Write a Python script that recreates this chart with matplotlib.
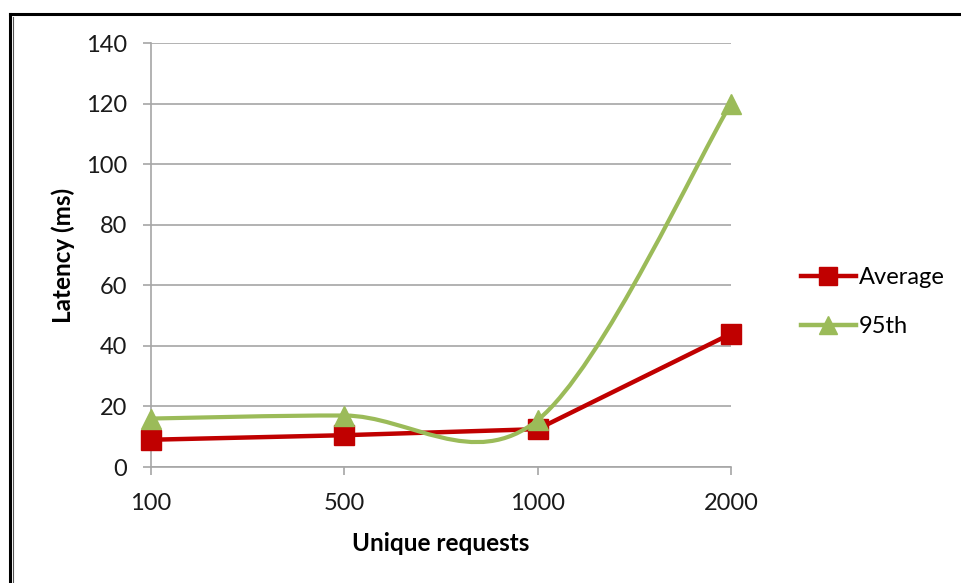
import numpy as np
import matplotlib
matplotlib.use("Agg")
import matplotlib.pyplot as plt
from matplotlib.path import Path
from matplotlib.patches import PathPatch
from matplotlib.lines import Line2D

# latency measurements per number of unique requests
requests = ["100", "500", "1000", "2000"]
avg_ms = [9, 10.5, 12.5, 44]
p95_ms = [16, 17, 15.5, 120]

RED = "#C00000"
GREEN = "#9BBB59"
GRID = "#A6A6A6"

plt.rcParams["font.family"] = ["Lato", "DejaVu Sans"]

W, H = 961, 583
fig = plt.figure(figsize=(W / 100, H / 100), dpi=100)
ax = fig.add_axes([151 / W, 1 - 467 / H, (731 - 151) / W, (467 - 43) / H])

x = np.arange(len(requests))


def smooth_path(xs, ys):
    # Catmull-Rom style bezier segments, like a spreadsheet "smoothed line"
    pts = list(zip(xs, ys))
    verts = [pts[0]]
    codes = [Path.MOVETO]
    n = len(pts)
    for i in range(n - 1):
        p0 = pts[max(i - 1, 0)]
        p1 = pts[i]
        p2 = pts[i + 1]
        p3 = pts[min(i + 2, n - 1)]
        c1 = (p1[0] + (p2[0] - p0[0]) / 6, p1[1] + (p2[1] - p0[1]) / 6)
        c2 = (p2[0] - (p3[0] - p1[0]) / 6, p2[1] - (p3[1] - p1[1]) / 6)
        verts += [c1, c2, p2]
        codes += [Path.CURVE4] * 3
    return Path(verts, codes)


ax.plot(x, avg_ms, color=RED, lw=3.2, marker="s", ms=14, mec=RED, mfc=RED,
        zorder=3, clip_on=False)
ax.add_patch(PathPatch(smooth_path(x, p95_ms), fill=False, ec=GREEN, lw=3,
                       zorder=4, capstyle="round"))
ax.plot(x, p95_ms, ls="none", marker="^", ms=15, color=GREEN, mec=GREEN,
        zorder=5, clip_on=False)

ax.set_xlim(0, len(requests) - 1)
ax.set_ylim(0, 140)
ax.set_yticks(np.arange(0, 141, 20))
ax.set_xticks(x)
ax.set_xticklabels(requests)

ax.grid(axis="y", color=GRID, lw=1.2)
ax.set_axisbelow(True)
for side in ["top", "right"]:
    ax.spines[side].set_visible(False)
for side in ["left", "bottom"]:
    ax.spines[side].set_color(GRID)
    ax.spines[side].set_linewidth(1.2)

ax.tick_params(axis="both", colors=GRID, labelcolor="#1a1a1a", labelsize=17,
               width=1.2)
ax.tick_params(axis="y", length=6, pad=11)
ax.tick_params(axis="x", length=6, pad=13)

ax.set_xlabel("Unique requests", fontsize=17.5, fontweight="bold", labelpad=13)
ax.set_ylabel("Latency (ms)", fontsize=17.5, fontweight="bold", labelpad=8)

handles = [
    Line2D([], [], color=RED, lw=3.2, marker="s", ms=13),
    Line2D([], [], color=GREEN, lw=3.2, marker="^", ms=13),
]
fig.legend(handles, ["Average", "95th"], loc="center left",
           bbox_to_anchor=(780 / W, 1 - 302 / H), frameon=False, fontsize=17,
           handlelength=2.3, handletextpad=0.15, labelspacing=1.17)

# outer chart frame (top and left edges)
fig.add_artist(Line2D([10 / W, 1], [1 - 14 / H, 1 - 14 / H], color="black",
                      lw=2.2, transform=fig.transFigure))
fig.add_artist(Line2D([10 / W, 10 / W], [0, 1 - 14 / H], color="black",
                      lw=2.2, transform=fig.transFigure))
fig.add_artist(Line2D([12.5 / W, 12.5 / W], [0, 1 - 16.5 / H], color="#555555",
                      lw=0.8, transform=fig.transFigure))

fig.savefig("out.png", dpi=100)
